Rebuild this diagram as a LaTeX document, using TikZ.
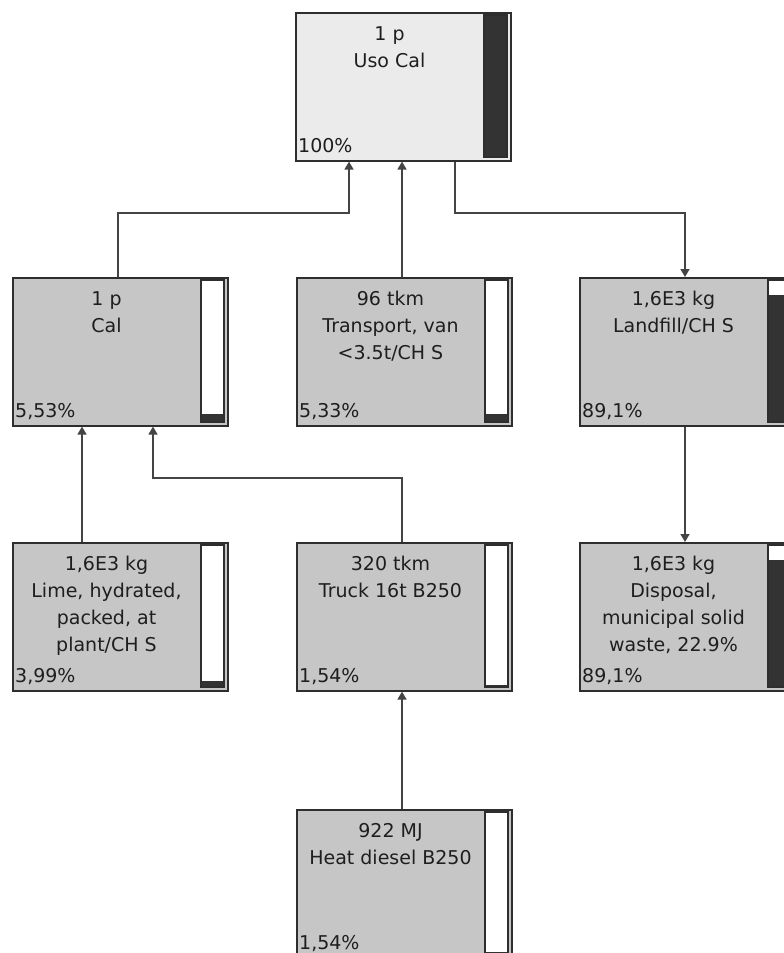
\documentclass[tikz,border=0pt]{standalone}
\usepackage{fontspec}
\setmainfont{DejaVu Sans}
\usetikzlibrary{arrows.meta}

\definecolor{rootfill}{HTML}{EBEBEB}
\definecolor{procfill}{HTML}{C6C6C6}
\definecolor{edge}{HTML}{2E2E2E}
\definecolor{linkcol}{HTML}{444444}
\definecolor{barcol}{HTML}{333333}
\definecolor{txt}{HTML}{1E1E1E}

\tikzset{
  procnode/.style={draw=edge, line width=1.6pt, minimum width=215pt,
    minimum height=148pt, inner sep=0pt, anchor=north west},
  proctext/.style={anchor=north, inner sep=0pt, align=center, text=txt,
    font=\fontsize{19}{27}\selectfont},
  pcttext/.style={anchor=base west, inner sep=0pt, text=txt,
    font=\fontsize{19}{23}\selectfont},
  barframe/.style={draw=edge, line width=1.4pt, fill=white},
  barfill/.style={fill=barcol},
  link/.style={draw=linkcol, line width=1.5pt,
    -{Triangle[width=9pt,length=8pt]}},
}

% #1 name, #2 x, #3 y (top left), #4 fill, #5 label, #6 share, #7 bar fraction
\newcommand\procbox[7]{%
  \node[procnode, fill=#4] (#1) at (#2,#3) {};
  \node[proctext] (#1-label) at (#2+94.5,#3+13) {\rule{0pt}{15pt}#5};
  \node[pcttext] (#1-share) at (#2+3,#3+140) {#6};
  \draw[barframe] (#2+189,#3+3) rectangle (#2+212,#3+145);
  \fill[barfill] (#2+189,#3+145) rectangle (#2+212,#3+145-#7*142);
  \draw[draw=edge, line width=1.4pt] (#2+189,#3+3) rectangle (#2+212,#3+145);
}

\begin{document}
\begin{tikzpicture}[x=1pt, y=-1pt]
  \useasboundingbox (0,0) rectangle (784,953);
  \clip (0,0) rectangle (784,953);
  \fill[white] (0,0) rectangle (784,953);

  % process tree
  \procbox{uso}{295}{12}{rootfill}{1 p\\Uso Cal}{100\%}{1}
  \procbox{cal}{12}{277}{procfill}{1 p\\Cal}{5,53\%}{0.0553}
  \procbox{van}{296}{277}{procfill}{96 tkm\\Transport, van\\<3.5t/CH S}{5,33\%}{0.0533}
  \procbox{land}{579}{277}{procfill}{1,6E3 kg\\Landfill/CH S}{89,1\%}{0.891}
  \procbox{lime}{12}{542}{procfill}{1,6E3 kg\\Lime, hydrated,\\packed, at\\plant/CH S}{3,99\%}{0.0399}
  \procbox{truck}{296}{542}{procfill}{320 tkm\\Truck 16t B250}{1,54\%}{0.0154}
  \procbox{disp}{579}{542}{procfill}{1,6E3 kg\\Disposal,\\municipal solid\\waste, 22.9\%}{89,1\%}{0.891}
  \procbox{heat}{296}{809}{procfill}{922 MJ\\Heat diesel B250}{1,54\%}{0.0154}

  % routing rows
  \coordinate (row1) at (0,213);
  \coordinate (row2) at (0,478);

  % ports
  \coordinate (uso-in1) at ([xshift=54pt]uso.south west);
  \coordinate (uso-out) at ([xshift=160pt]uso.south west);
  \coordinate (cal-out) at ([xshift=106pt]cal.north west);
  \coordinate (cal-in2) at ([xshift=141pt]cal.south west);
  \coordinate (van-out) at ([xshift=106pt]van.north west);
  \coordinate (land-in) at ([xshift=106pt]land.north west);
  \coordinate (land-out) at ([xshift=106pt]land.south west);
  \coordinate (lime-out) at ([xshift=70pt]lime.north west);
  \coordinate (truck-out) at ([xshift=106pt]truck.north west);
  \coordinate (heat-out) at ([xshift=106pt]heat.north west);

  % connectors
  \draw[link] (cal-out) |- (row1 -| uso-in1) -- (uso-in1);
  \draw[link] (van-out) -- (van-out |- uso.south);
  \draw[link] (uso-out) |- (row1 -| land-in) -- (land-in);
  \draw[link] (land-out) -- (land-out |- disp.north);
  \draw[link] (lime-out) -- (lime-out |- cal.south);
  \draw[link] (truck-out) |- (row2 -| cal-in2) -- (cal-in2);
  \draw[link] (heat-out) -- (heat-out |- truck.south);
\end{tikzpicture}
\end{document}
